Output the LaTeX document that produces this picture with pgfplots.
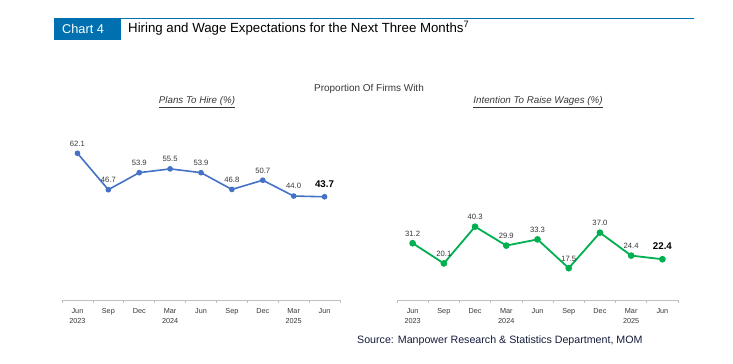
\documentclass[border=0pt]{standalone}
\usepackage{pgfplots}
\pgfplotsset{compat=1.18}
\usepackage{fontspec}
\setmainfont{Liberation Sans}
\definecolor{hdrblue}{RGB}{0,112,176}
\definecolor{lineblue}{RGB}{68,114,196}
\definecolor{linegreen}{RGB}{0,176,80}
\definecolor{axgray}{RGB}{191,191,191}
\definecolor{txtgray}{RGB}{55,55,55}
\definecolor{srcnavy}{RGB}{20,28,60}
\pgfplotsset{
  chartstyle/.style={
    scale only axis, anchor=south west, clip=false,
    xmin=-0.5, xmax=8.5, ymin=0,
    axis y line=none, axis x line*=bottom,
    x axis line style={axgray, line width=0.6bp},
    xtick={0,...,8},
    xticklabels={{Jun\\2023},Sep,Dec,{Mar\\2024},Jun,Sep,Dec,{Mar\\2025},Jun},
    xticklabel style={align=center, font=\fontsize{7.3}{10}\selectfont, text=txtgray, yshift=-5bp},
    major tick length=0pt,
    minor xtick={-0.5,0.5,...,8.5},
    minor tick length=3bp, tick align=outside,
    minor tick style={axgray, line width=0.6bp},
    /pgf/number format/assume math mode=true,
    /pgf/number format/.cd, fixed, fixed zerofill, precision=1,
  },
  lbl/.style={draw=none, mark=none, nodes near coords, point meta=y,
    every node near coord/.append style={font=\fontsize{7.7}{8}\selectfont, text=txtgray, anchor=south, yshift=3.5bp}},
  lblbold/.style={draw=none, mark=none, nodes near coords, point meta=y,
    every node near coord/.append style={font=\fontsize{9.8}{10}\selectfont\bfseries, text=black, anchor=south, yshift=6bp}},
}
\begin{document}
\begin{tikzpicture}[x=1bp,y=1bp]
\path[use as bounding box] (0,0) rectangle (733,363);
% header
\fill[hdrblue] (54,323) rectangle (121,345);
\draw[hdrblue, line width=1.3bp] (121,344.4) -- (694,344.4);
\node[anchor=west, text=white, font=\fontsize{12.8}{14}\selectfont, inner sep=0] at (62,334) {Chart 4};
\node[anchor=west, font=\fontsize{13.3}{15}\selectfont, inner sep=0] at (128,335) {Hiring and Wage Expectations for the Next Three Months\textsuperscript{7}};
% titles
\node[font=\fontsize{10}{12}\selectfont, text=txtgray] at (369,274) {Proportion Of Firms With};
\node[font=\fontsize{9.8}{12}\selectfont\itshape, text=txtgray] at (197,261) {\underline{Plans To Hire (\%)}};
\node[font=\fontsize{9.8}{12}\selectfont\itshape, text=txtgray] at (538,261) {\underline{Intention To Raise Wages (\%)}};
% source
\node[anchor=west, font=\fontsize{10.7}{12}\selectfont, text=srcnavy, inner sep=0] at (357,22) {Source: Manpower Research \& Statistics Department, MOM};

\begin{axis}[chartstyle, at={(62bp,63bp)}, width=278bp, height=189bp, ymax=80]
\addplot[lineblue, line width=1.6bp, mark=*, mark size=2bp, mark options={fill=lineblue, draw=lineblue}]
  coordinates {(0,62.1) (1,46.7) (2,53.9) (3,55.5) (4,53.9) (5,46.8) (6,50.7) (7,44.0) (8,43.7)};
\addplot[lbl] coordinates {(0,62.1) (1,46.7) (2,53.9) (3,55.5) (4,53.9) (5,46.8) (6,50.7) (7,44.0)};
\addplot[lblbold] coordinates {(8,43.7)};
\end{axis}

\begin{axis}[chartstyle, at={(397bp,63bp)}, width=281bp, height=182bp, ymax=100]
\addplot[linegreen, line width=1.8bp, mark=*, mark size=2.4bp, mark options={fill=linegreen, draw=linegreen}]
  coordinates {(0,31.2) (1,20.1) (2,40.3) (3,29.9) (4,33.3) (5,17.5) (6,37.0) (7,24.4) (8,22.4)};
\addplot[lbl] coordinates {(0,31.2) (1,20.1) (2,40.3) (3,29.9) (4,33.3) (5,17.5) (6,37.0) (7,24.4)};
\addplot[lblbold] coordinates {(8,22.4)};
\end{axis}
\end{tikzpicture}
\end{document}
